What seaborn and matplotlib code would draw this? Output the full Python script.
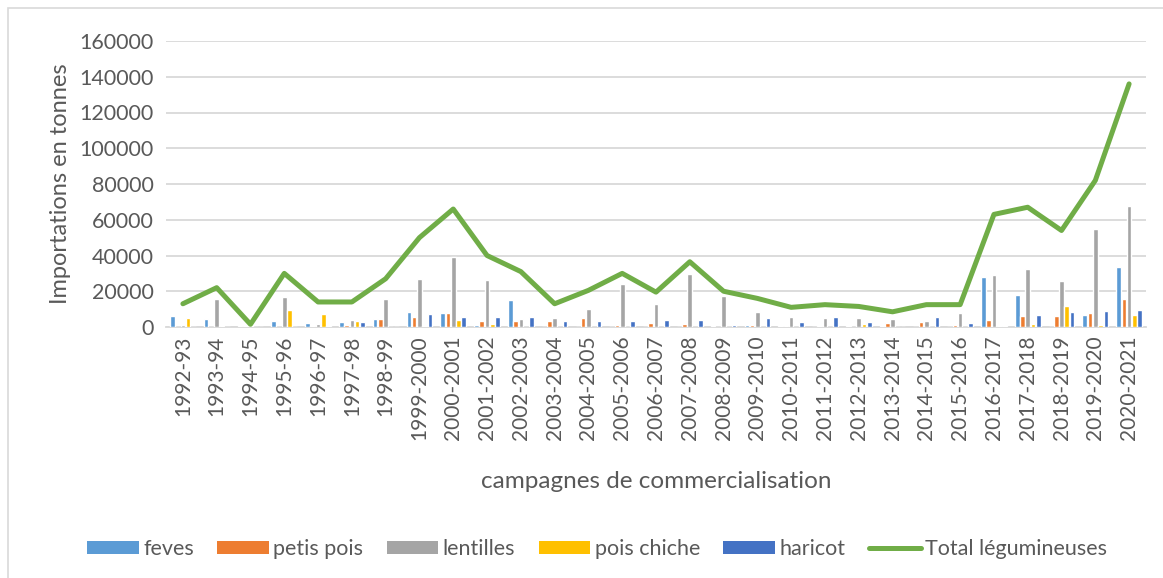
import matplotlib
matplotlib.use("Agg")
import matplotlib.pyplot as plt
import seaborn as sns
import pandas as pd
from matplotlib.patches import Rectangle, Patch
from matplotlib.lines import Line2D

campagnes = ["1992-93", "1993-94", "1994-95", "1995-96", "1996-97", "1997-98", "1998-99",
             "1999-2000", "2000-2001", "2001-2002", "2002-2003", "2003-2004", "2004-2005",
             "2005-2006", "2006-2007", "2007-2008", "2008-2009", "2009-2010", "2010-2011",
             "2011-2012", "2012-2013", "2013-2014", "2014-2015", "2015-2016", "2016-2017",
             "2017-2018", "2018-2019", "2019-2020", "2020-2021"]

feves = [6200, 4500, 400, 3500, 2400, 2600, 4700, 8600, 7900, 1100, 15000, 0, 0,
         0, 0, 0, 700, 1300, 700, 0, 500, 400, 0, 0, 27700, 18100, 0, 6500, 33300]
petis_pois = [0, 0, 300, 0, 700, 1300, 4700, 5400, 7900, 3400, 3400, 3200, 4900,
              1100, 2200, 1900, 0, 1100, 700, 400, 0, 2400, 2800, 1100, 3700, 6200, 6000, 7700, 15500]
lentilles = [1300, 15900, 400, 16800, 1900, 3700, 15900, 26700, 38900, 26200, 4700, 5000, 10300,
             23900, 13100, 29900, 17200, 8200, 5800, 5200, 5000, 4700, 3600, 7700, 29200, 32300, 25800, 54900, 67700]
pois_chiche = [5000, 800, 200, 9300, 7500, 3200, 0, 500, 3900, 1700, 0, 0, 0,
               0, 0, 0, 0, 0, 0, 0, 1900, 0, 0, 0, 500, 1500, 11600, 900, 6900]
haricot = [0, 0, 200, 0, 700, 2800, 0, 7100, 5400, 5600, 5400, 3400, 3200,
           3200, 3900, 4100, 1300, 5000, 2800, 5800, 3000, 0, 5600, 2400, 500, 6500, 8400, 9200, 9700]
total = [13000, 22000, 1500, 30000, 14000, 14000, 27000, 50000, 66000, 40000, 31000, 13000, 20500,
         30000, 19500, 36500, 20000, 16000, 11000, 12500, 11500, 8500, 12500, 12500, 63000,
         67000, 54000, 82000, 136000]

series_names = ["feves", "petis pois", "lentilles", "pois chiche", "haricot"]
series_colors = ["#5B9BD5", "#ED7D31", "#A5A5A5", "#FFC000", "#4472C4"]
total_name = "Total légumineuses"
total_color = "#70AD47"

wide = pd.DataFrame({"campagne": campagnes, "feves": feves, "petis pois": petis_pois,
                     "lentilles": lentilles, "pois chiche": pois_chiche, "haricot": haricot})
long = wide.melt(id_vars="campagne", var_name="produit", value_name="tonnes")
df_total = pd.DataFrame({"campagne": campagnes, "total": total})

sns.set_theme(style="white")
plt.rcParams["font.family"] = ["Lato", "DejaVu Sans"]
text_color = "#595959"

fig = plt.figure(figsize=(11.63, 5.78), dpi=100)
ax = fig.add_axes([166 / 1163, 1 - 327 / 578, (1146 - 166) / 1163, (327 - 41) / 578])

sns.barplot(data=long, x="campagne", y="tonnes", hue="produit", hue_order=series_names,
            palette=series_colors, order=campagnes, width=0.78, gap=0.12,
            saturation=1, errorbar=None, ax=ax, legend=False, zorder=3)
sns.pointplot(data=df_total, x="campagne", y="total", order=campagnes, color=total_color,
              markersize=0, linewidth=3.6, errorbar=None, ax=ax, zorder=4)

ax.set_xlim(-0.5, len(campagnes) - 0.5)
ax.set_ylim(0, 160000)
ax.set_yticks(range(0, 160001, 20000))
ax.yaxis.grid(True, color="#D9D9D9", linewidth=1.3, zorder=0)
ax.set_axisbelow(True)
for s in ["top", "right", "left"]:
    ax.spines[s].set_visible(False)
ax.spines["bottom"].set_color("#D9D9D9")
ax.spines["bottom"].set_linewidth(1.3)
ax.tick_params(axis="both", length=0, colors=text_color)
ax.tick_params(axis="y", labelsize=15.5, pad=9)
ax.tick_params(axis="x", labelsize=15, rotation=90, pad=6)
ax.set_xlabel("campagnes de commercialisation", fontsize=17.5, color=text_color, labelpad=22)
ax.set_ylabel("Importations en tonnes", fontsize=17, color=text_color, labelpad=6)

handles = [Patch(facecolor=c, edgecolor="none") for c in series_colors]
handles.append(Line2D([0], [0], color=total_color, linewidth=3.6, solid_capstyle="round"))
labels = series_names + [total_name]
fig.legend(handles, labels, loc="center", bbox_to_anchor=(597 / 1163, 1 - 549 / 578), ncol=6,
           frameon=False, fontsize=15.5, labelcolor=text_color, handlelength=2.4,
           handleheight=0.6, handletextpad=0.2, columnspacing=1.09)

fig.add_artist(Rectangle((8 / 1163, -0.01), 1.0, 1 - 8 / 578 + 0.01, transform=fig.transFigure,
                         fill=False, edgecolor="#D9D9D9", linewidth=1.2))

fig.savefig("out.png", dpi=100)
